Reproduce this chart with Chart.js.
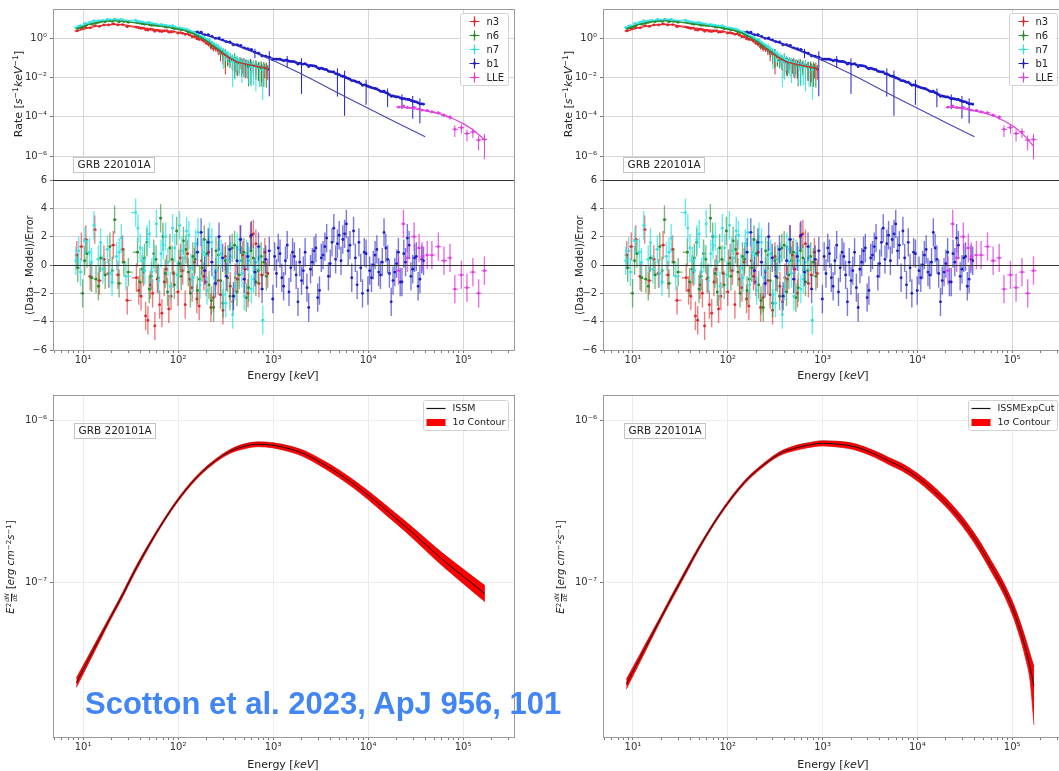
<!DOCTYPE html>
<html lang="en">
<head>
<meta charset="UTF-8">
<title>GRB 220101A spectral fits</title>
<script src="https://cdn.jsdelivr.net/npm/chart.js@4"></script>
<style>
  body { margin: 0; width: 1059px; height: 771px; overflow: hidden; background: #fff; position: relative;
         font-family: 'DejaVu Sans', sans-serif; color: #222; }
  canvas { position: absolute; }
  .yt { position: absolute; transform: translate(-50%, -50%) rotate(-90deg); white-space: nowrap; font-size: 11px; z-index: 5; }
  .xt { position: absolute; transform: translate(-50%, -50%); white-space: nowrap; font-size: 11px; z-index: 5; }
  sup { font-size: 70%; vertical-align: 0.45em; line-height: 0; }
  .fr { display: inline-flex; flex-direction: column; font-size: 62%; line-height: 1.05; vertical-align: middle; text-align: center; margin: 0 1px; }
  .fr i + i { border-top: 1px solid #222; }
  #cite { position: absolute; left: 85px; top: 688px; font: bold 31px 'Liberation Sans', Arial, sans-serif;
          line-height: 31px; color: #4285f4; white-space: nowrap; z-index: 6; }
</style>
</head>
<body>

<canvas id="rateL" width="530" height="200" style="left:0;top:-5px"></canvas>
<canvas id="resL" width="530" height="215" style="left:0;top:165px"></canvas>
<canvas id="fluxL" width="530" height="391" style="left:0;top:380px"></canvas>
<canvas id="rateR" width="545" height="200" style="left:530px;top:-5px"></canvas>
<canvas id="resR" width="545" height="215" style="left:530px;top:165px"></canvas>
<canvas id="fluxR" width="545" height="391" style="left:530px;top:380px"></canvas>

<div class="yt" style="left:18px;top:94px">Rate [<i>s</i><sup>−1</sup><i>keV</i><sup>−1</sup>]</div>
<div class="yt" style="left:29px;top:265px;font-size:10px">(Data - Model)/Error</div>
<div class="yt" style="left:11px;top:567px;font-size:10px"><i>E</i><sup>2</sup><span class="fr"><i>dN</i><i>dE</i></span> [<i>erg cm</i><sup>−2</sup><i>s</i><sup>−1</sup>]</div>
<div class="xt" style="left:283px;top:375px">Energy [<i>keV</i>]</div>
<div class="xt" style="left:283px;top:764px">Energy [<i>keV</i>]</div>

<div class="yt" style="left:568px;top:94px">Rate [<i>s</i><sup>−1</sup><i>keV</i><sup>−1</sup>]</div>
<div class="yt" style="left:579px;top:265px;font-size:10px">(Data - Model)/Error</div>
<div class="yt" style="left:561px;top:567px;font-size:10px"><i>E</i><sup>2</sup><span class="fr"><i>dN</i><i>dE</i></span> [<i>erg cm</i><sup>−2</sup><i>s</i><sup>−1</sup>]</div>
<div class="xt" style="left:833px;top:375px">Energy [<i>keV</i>]</div>
<div class="xt" style="left:833px;top:764px">Energy [<i>keV</i>]</div>

<div id="cite">Scotton et al. 2023, ApJ 956, 101</div>

<script>
// ---- axis ticks ----
const xDecades = [10, 100, 1000, 10000, 100000];
const xDecadeLabels = ['10¹', '10²', '10³', '10⁴', '10⁵'];
const rateTicks = [1e-6, 1e-4, 1e-2, 1];
const rateTickLabels = ['10⁻⁶', '10⁻⁴', '10⁻²', '10⁰'];
const resTicks = [-6, -4, -2, 0, 2, 4, 6];
const resTickLabels = ['−6', '−4', '−2', '0', '2', '4', '6'];
const fluxTicks = [1e-7, 1e-6];
const fluxTickLabels = ['10⁻⁷', '10⁻⁶'];

// ---- NaI n3 ----
const n3E = [8.6, 9.6, 10.7, 11.9, 13.3, 14.9, 16.6, 18.6, 20.8, 23.3, 26.1, 29.2, 36.5, 38.6, 40.8, 43.2, 45.6, 48.2, 51, 54,
             57, 60.5, 64, 67.7, 71.5, 75.6, 80, 84.5, 89, 100, 106, 112, 119, 126, 133, 141, 149, 158, 167, 177,
             187, 198, 210, 222, 236, 250, 265, 280, 297, 315, 335, 355, 377, 400, 425, 450, 480, 510, 545, 580,
             620, 660, 710, 760, 820, 880];
const n3Rate = [2.4, 3.1, 3.6, 3.45, 4.4, 4.05, 4.8, 4.85, 5.45, 4.8, 5.05, 3.95, 3.7, 3.4, 3.2, 3.3, 2.7, 2.6, 2.9, 2.7,
                2.3, 2.55, 2.3, 2.2, 2.4, 2.45, 2.05, 2.1, 2.2, 1.85, 1.95, 1.8, 1.6, 1.7, 1.45, 1.2, 1.2, 0.95, 0.88, 0.87,
                0.72, 0.57, 0.48, 0.36, 0.3, 0.29, 0.23, 0.17, 0.155, 0.145, 0.105, 0.08, 0.071, 0.063, 0.058, 0.068, 0.052, 0.045, 0.043, 0.055,
                0.043, 0.045, 0.034, 0.029, 0.03, 0.026];
const n3Sig = [0.05, 0.05, 0.05, 0.05, 0.05, 0.05, 0.05, 0.05, 0.05, 0.05, 0.05, 0.06, 0.06, 0.06, 0.06, 0.06, 0.06, 0.06, 0.06, 0.06,
               0.07, 0.07, 0.07, 0.07, 0.07, 0.07, 0.07, 0.07, 0.08, 0.08, 0.08, 0.08, 0.08, 0.09, 0.09, 0.1, 0.1, 0.12, 0.12, 0.14,
               0.15, 0.18, 0.2, 0.25, 0.28, 0.3, 0.4, 0.6, 0.7, 0.9, 0.6, 0.5, 0.7, 0.7, 0.8, 0.6, 0.7, 0.8, 0.8, 0.6,
               0.6, 0.7, 0.8, 0.8, 0.7, 0.7];
const n3Res = [0.7, 1.3, 1.8, -0.8, 2.5, -1.1, 0.4, -0.6, 1.4, -0.7, 1.1, -2.5, -0.9, -1.8, -2.2, -0.5, -3.6, -3.9, -1.4, -2.0,
               -4.3, -1.0, -2.8, -3.4, -1.2, -0.3, -3.1, -2.2, -0.6, -1.9, 0.5, -0.4, -2.8, 0.8, -1.0, -1.6, 0.2, -2.4, -2.9, 0.3,
               -0.8, -1.2, 0.9, -3.0, -2.3, -0.5, -1.1, -2.1, -3.2, 0.6, 0.4, -1.5, -2.6, -0.9, -1.0, 1.8, 0.7, -0.3, -2.0, 2.0,
               2.2, 1.5, -1.3, -0.7, 0.9, -0.6];

// ---- NaI n6 ----
const n6E = [8.8, 9.9, 10.4, 11.0, 12.3, 13.7, 14.5, 15.3, 17.1, 19.2, 20.3, 21.5, 24.0, 26.9, 30.0, 37.5, 39.7, 42, 44.4, 47,
             49.7, 52.5, 55.5, 58.7, 62, 65.6, 69.3, 73.3, 77.6, 82, 86.7, 91.6, 96.7, 102, 108, 114, 121, 128, 135, 143,
             151, 160, 169, 179, 189, 200, 212, 224, 237, 251, 266, 281, 297, 314, 333, 352, 372, 394, 417, 441,
             467, 494, 523, 553, 586, 620, 660, 700, 750, 800, 850];
const n6Rate = [3.17, 3.6, 4.3, 5.0, 5.25, 5.9, 6.5, 6.97, 7.05, 8.1, 7.4, 8.9, 7.0, 7.3, 6.6, 6.27, 5.9, 5.5, 5.2, 5.6,
                5.1, 4.6, 4.7, 4.6, 4.5, 4.9, 4.2, 3.8, 3.7, 3.8, 3.5, 3.1, 3.2, 3.0, 2.75, 2.85, 2.5, 2.15, 2.0, 1.85,
                1.55, 1.25, 1.15, 1.03, 0.92, 0.8, 0.58, 0.42, 0.4, 0.39, 0.29, 0.21, 0.18, 0.155, 0.12, 0.075, 0.085, 0.09, 0.065, 0.056,
                0.054, 0.055, 0.048, 0.036, 0.041, 0.042, 0.038, 0.034, 0.035, 0.033, 0.031];
const n6Sig = [0.05, 0.05, 0.05, 0.05, 0.05, 0.05, 0.05, 0.05, 0.05, 0.05, 0.05, 0.05, 0.05, 0.05, 0.05, 0.06, 0.06, 0.06, 0.06, 0.06,
               0.06, 0.06, 0.06, 0.06, 0.06, 0.06, 0.07, 0.07, 0.07, 0.07, 0.07, 0.07, 0.07, 0.07, 0.08, 0.08, 0.08, 0.09, 0.09, 0.1,
               0.1, 0.12, 0.13, 0.15, 0.17, 0.2, 0.22, 0.28, 0.3, 0.35, 0.4, 0.5, 0.6, 0.8, 0.7, 0.6, 0.7, 0.9, 0.8, 0.7,
               0.8, 0.8, 0.7, 0.9, 0.9, 0.7, 0.8, 0.8, 0.9, 0.9, 0.9];
const n6Res = [-0.2, -2.0, 0.3, 0.8, -0.9, -1.0, -1.5, 0.5, -0.7, 1.3, -0.4, 3.2, -1.3, 0.2, -0.5, 0.9, -1.2, -0.3, 0.5, 1.6,
               -1.7, -0.8, 0.8, 0.4, -0.9, 3.3, 2.0, -0.6, -1.9, 1.2, 0.4, -1.4, 2.4, 0.1, -0.8, 1.7, 1.1, -0.5, -2.0, 0.6,
               0.4, -1.8, -1.0, -0.2, 1.8, 0.8, -1.4, -2.5, -3.0, 1.0, 0.7, -1.1, -2.7, 0.3, -0.9, -2.2, 1.2, 1.4, -1.9, -0.7,
               0.3, 0.9, -2.3, -1.6, 1.0, 0.5, -1.2, -0.4, 0.6, 0.2, -0.8];

// ---- NaI n7 ----
const n7E = [8.4, 9.0, 9.4, 10.5, 11.7, 12.3, 13.0, 14.5, 15.3, 16.2, 18.1, 19.1, 20.2, 22.6, 24, 25.3, 28.3, 35.8, 37.9, 40,
             42.3, 44.7, 47.3, 50, 53, 56, 59.2, 62.6, 66.2, 70, 74, 78.3, 82.8, 87.6, 92.6, 98, 104, 110, 116, 123,
             130, 137, 145, 153, 162, 171, 181, 191, 202, 214, 227, 240, 254, 268, 284, 300, 318, 336, 356, 376,
             398, 420, 445, 470, 498, 526, 558, 590, 625, 660, 720, 780];
const n7Rate = [3.55, 4.2, 4.4, 5.85, 6.5, 6.9, 8.0, 7.85, 7.9, 8.2, 9.2, 8.6, 8.4, 9.05, 8.7, 9.3, 7.8, 8.5, 7.4, 7.1,
                6.7, 6.1, 6.3, 6.4, 5.7, 5.5, 5.3, 4.7, 4.9, 4.9, 4.6, 4.35, 4.1, 4.4, 3.85, 3.4, 3.4, 3.25, 3.05, 2.9,
                2.55, 2.2, 2.15, 1.9, 1.6, 1.2, 1.2, 1.04, 0.88, 0.8, 0.62, 0.48, 0.42, 0.35, 0.27, 0.18, 0.17, 0.145, 0.11, 0.065,
                0.08, 0.075, 0.062, 0.053, 0.052, 0.05, 0.046, 0.035, 0.04, 0.039, 0.034, 0.024];
const n7Sig = [0.05, 0.05, 0.05, 0.05, 0.05, 0.05, 0.05, 0.05, 0.05, 0.05, 0.05, 0.05, 0.05, 0.05, 0.05, 0.05, 0.05, 0.06, 0.06, 0.06,
               0.06, 0.06, 0.06, 0.06, 0.06, 0.06, 0.06, 0.06, 0.06, 0.07, 0.07, 0.07, 0.07, 0.07, 0.07, 0.07, 0.08, 0.08, 0.08, 0.09,
               0.09, 0.1, 0.1, 0.12, 0.12, 0.15, 0.15, 0.2, 0.2, 0.28, 0.25, 0.35, 0.3, 0.5, 0.45, 0.85, 0.6, 0.6, 0.7, 0.95,
               0.9, 0.7, 0.8, 0.9, 0.8, 0.8, 0.9, 0.9, 0.9, 0.95, 0.9, 0.97];
const n7Res = [0.3, 1.0, -0.5, 1.7, 0.9, 0.2, 2.8, 0.4, 1.6, -0.3, 1.1, -0.6, -1.2, 0.6, 0.9, 1.9, -0.8, 3.7, 2.6, 1.2,
               0.3, -0.4, 1.8, 2.2, -0.5, 0.5, 2.9, -1.1, 0.8, 1.4, 2.0, 0.2, -1.5, 2.6, 1.2, -0.7, 2.8, 1.0, 0.5, 2.4,
               2.1, -0.2, -0.9, 1.5, 2.3, -1.4, 0.9, 0.7, -1.8, 2.0, 1.6, -0.9, -0.4, 1.1, 0.8, -2.1, -2.7, 0.4, 0.6, -3.5,
               -1.5, 1.3, 1.1, -0.6, -2.2, 0.8, 0.3, -1.7, -1.0, 0.2, 0.5, -3.9];

// ---- BGO b1 ----
const b1E = [160, 175, 191, 208, 227, 248, 270, 295, 322, 351,
             383, 418, 456, 497, 542, 591, 645, 703, 767, 837,
             913, 996, 1040, 1087, 1135, 1185, 1238, 1293, 1350, 1410,
             1473, 1538, 1606, 1678, 1752, 1830, 1911, 1996, 2085, 2177,
             2274, 2375, 2481, 2591, 2706, 2826, 2952, 3083, 3220, 3363,
             3513, 3668, 3831, 4001, 4179, 4365, 4559, 4761, 4972, 5193,
             5424, 5665, 5917, 6180, 6454, 6741, 7041, 7353, 7680, 8021,
             8378, 8750, 9139, 9545, 9969, 10412, 10875, 11358, 11863, 12390,
             12940, 13515, 14116, 14743, 15398, 16082, 16797, 17543, 18322, 19136,
             19986, 20874, 21802, 22770, 23782, 24838, 25942, 27094, 28298, 29555,
             30868, 32240, 33672, 35168, 36731, 38363];
const b1Rate = [2.11, 2.05, 1.56, 1.56, 1.27, 0.99, 1.04, 0.83, 0.67, 0.65,
                0.46, 0.48, 0.44, 0.33, 0.30, 0.27, 0.194, 0.178, 0.126, 0.123,
                0.111, 0.081, 0.088, 0.086, 0.087, 0.087, 0.079, 0.071, 0.077, 0.078,
                0.068, 0.066, 0.066, 0.064, 0.058, 0.048, 0.055, 0.049, 0.049, 0.051,
                0.044, 0.036, 0.042, 0.040, 0.039, 0.0375, 0.031, 0.0277, 0.030, 0.0281,
                0.026, 0.0256, 0.021, 0.0201, 0.0195, 0.0197, 0.0158, 0.0153, 0.0140, 0.0122,
                0.0117, 0.0113, 0.0098, 0.0091, 0.0082, 0.0070, 0.0070, 0.0065, 0.0058, 0.0059,
                0.0049, 0.0040, 0.0042, 0.0041, 0.0036, 0.0033, 0.0031, 0.0029, 0.0028, 0.00267,
                0.0023, 0.00201, 0.00194, 0.00205, 0.0017, 0.00154, 0.00135, 0.0011, 0.00115, 0.00107,
                0.00102, 0.00103, 0.00093, 0.00082, 0.00085, 0.00081, 0.00078, 0.00077, 0.00068, 0.00062,
                0.0006, 0.00057, 0.00051, 0.00046, 0.00046, 0.00044];
const b1Sig = [0.05, 0.05, 0.05, 0.05, 0.05, 0.05, 0.05, 0.06, 0.06, 0.06,
               0.06, 0.06, 0.06, 0.06, 0.06, 0.06, 0.5, 0.06, 0.06, 0.06,
               0.99, 0.06, 0.06, 0.06, 0.06, 0.06, 0.06, 0.06, 0.06, 0.6,
               0.06, 0.06, 0.06, 0.06, 0.07, 0.07, 0.07, 0.97, 0.07, 0.07,
               0.07, 0.07, 0.07, 0.07, 0.07, 0.07, 0.07, 0.07, 0.07, 0.07,
               0.07, 0.07, 0.08, 0.08, 0.08, 0.08, 0.08, 0.93, 0.08, 0.08,
               0.08, 0.99, 0.08, 0.08, 0.08, 0.08, 0.08, 0.08, 0.09, 0.09,
               0.09, 0.09, 0.09, 0.9, 0.09, 0.09, 0.1, 0.1, 0.1, 0.1,
               0.1, 0.1, 0.1, 0.1, 0.1, 0.8, 0.1, 0.1, 0.1, 0.1,
               0.1, 0.1, 0.1, 0.7, 0.12, 0.12, 0.12, 0.12, 0.12, 0.87,
               0.12, 0.12, 0.12, 0.9, 0.12, 0.12];
const b1Res = [0.9, 2.3, -0.4, 1.6, 0.2, -1.3, 2.0, 0.5, -0.8, 1.1,
               -2.2, 0.3, 1.8, -1.0, 0.6, 2.1, -0.5, 1.3, -1.7, 0.4,
               1.0, -2.4, 0.6, -0.6, 1.2, 0.8, -0.9, -1.5, 0.3, 1.4,
               -1.9, -0.2, 0.9, 0.6, -0.7, -2.6, 0.2, -1.1, -0.4, 0.9,
               -1.6, -3.0, -0.3, 0.2, 1.0, 1.2, -2.3, -1.8, 0.5, 0.7,
               1.3, 1.9, -0.8, 0.1, 1.6, 2.6, 0.4, 1.5, 2.1, 0.3,
               1.8, 2.2, 2.9, 1.0, 1.4, -0.9, 2.4, 0.5, -1.4, 1.6,
               -0.2, -2.0, 0.9, 0.8, -1.8, -0.4, -0.9, 0.0, 0.7, 1.1,
               -0.5, -0.7, 0.2, 2.3, 1.2, 0.4, -0.6, -2.6, -1.1, -0.5,
               0.1, 0.9, -1.2, -1.2, 0.8, 0.2, 1.9, 1.4, -0.8, -0.3,
               0.5, 0.6, -1.5, -1.0, 0.4, 0.3];

// ---- LAT LLE ----
const lleE = [21000, 23600, 26000, 30600, 34500, 37000, 42000, 47000, 55000, 63000, 73000, 82000, 96000, 110000, 127000, 146000, 168000];
const lleRate = [3.1e-4, 3.6e-4, 3.0e-4, 3.0e-4, 2.5e-4, 2.2e-4, 2.1e-4, 1.8e-4, 1.6e-4, 1.2e-4, 9.5e-5, 2.3e-5, 2.8e-5, 1.4e-5, 1.7e-5, 6.5e-6, 7.0e-6];
const lleSig = [0.1, 0.1, 0.1, 0.1, 0.12, 0.12, 0.15, 0.15, 0.2, 0.2, 0.25, 0.6, 0.5, 0.6, 0.5, 0.7, 0.9];
const lleRes = [-0.4, 2.9, 0.5, 2.0, 1.2, 0.6, 0.7, 0.7, 1.3, 0.3, 0.5, -1.7, -0.7, -1.6, -0.5, -2.0, -0.4];

// ---- folded model curves (count space) ----
const naiModelE = [8.5, 12, 17, 22, 30, 45, 70, 100, 140, 200, 280, 400, 600, 900];
const n3ModelR = [2.3, 3.6, 4.8, 5.1, 4.5, 3.3, 2.55, 2.05, 1.38, 0.62, 0.2, 0.07, 0.042, 0.029];
const n6ModelR = [3.1, 5.4, 7.3, 7.7, 6.8, 5.35, 4.0, 3.05, 1.9, 0.75, 0.23, 0.072, 0.042, 0.03];
const n7ModelR = [3.6, 6.1, 8.3, 8.9, 8.1, 6.3, 4.65, 3.55, 2.3, 0.9, 0.32, 0.09, 0.044, 0.031];
const b1ModelE = [160, 250, 400, 600, 1000, 1500, 2100, 3000, 4400, 6600, 10000, 16000, 25000, 38000];
const b1ModelR = [2.0, 1.05, 0.5, 0.23, 0.095, 0.068, 0.05, 0.032, 0.017, 0.0075, 0.0035, 0.0015, 0.0008, 0.00043];
const b1LineE = [150, 400, 1000, 1900, 5900, 40000];
const b1LineR = [2.2, 0.45, 0.075, 0.017, 0.001, 9.5e-6];
const lleModelE = [21000, 30000, 40000, 57000, 72000, 100000, 130000, 170000];
const lleModelR = [3.2e-4, 2.6e-4, 2.0e-4, 1.4e-4, 9.5e-5, 4.5e-5, 2.0e-5, 6.5e-6];
const lleCutModelR = [3.2e-4, 2.6e-4, 2.0e-4, 1.35e-4, 8.5e-5, 3.6e-5, 1.3e-5, 3.0e-6];

// ---- ISSM nuFnu with 1 sigma contour ----
const issmE = [8.5, 11, 15, 20, 26, 35, 50, 70, 100, 150, 220, 350, 500, 700, 1000, 1500, 2200, 3500, 5000, 7000,
               10000, 15000, 25000, 40000, 60000, 100000, 170000];
const issmF = [2.4e-8, 3.2e-8, 4.53e-8, 6.24e-8, 8.32e-8, 1.175e-7, 1.71e-7, 2.37e-7, 3.22e-7, 4.31e-7, 5.32e-7, 6.4e-7, 6.9e-7, 7.1e-7, 7.0e-7, 6.65e-7, 6.15e-7, 5.3e-7, 4.65e-7, 4.05e-7,
               3.45e-7, 2.83e-7, 2.2e-7, 1.72e-7, 1.39e-7, 1.09e-7, 8.5e-8];
const issmLo = [2.24e-8, 3.02e-8, 4.33e-8, 6.03e-8, 8.04e-8, 1.135e-7, 1.663e-7, 2.316e-7, 3.147e-7, 4.212e-7, 5.199e-7, 6.226e-7, 6.666e-7, 6.859e-7, 6.747e-7, 6.38e-7, 5.873e-7, 5.038e-7, 4.4e-7, 3.823e-7,
                3.242e-7, 2.641e-7, 2.044e-7, 1.583e-7, 1.268e-7, 9.83e-8, 7.58e-8];
const issmHi = [2.57e-8, 3.39e-8, 4.74e-8, 6.46e-8, 8.61e-8, 1.216e-7, 1.758e-7, 2.425e-7, 3.295e-7, 4.41e-7, 5.444e-7, 6.579e-7, 7.142e-7, 7.349e-7, 7.263e-7, 6.931e-7, 6.44e-7, 5.576e-7, 4.914e-7, 4.29e-7,
                3.671e-7, 3.032e-7, 2.368e-7, 1.869e-7, 1.524e-7, 1.209e-7, 9.54e-8];

// ---- ISSMExpCut nuFnu with 1 sigma contour ----
const cutE = [8.5, 11, 15, 20, 26, 35, 50, 70, 100, 150, 220, 350, 500, 700, 1000, 1500, 2200, 3500, 5000, 7000,
              10000, 14000, 19500, 27000, 34000, 45000, 60000, 80000, 100000, 120000, 137000, 155000, 170000];
const cutF = [2.35e-8, 3.13e-8, 4.43e-8, 6.12e-8, 8.17e-8, 1.125e-7, 1.64e-7, 2.27e-7, 3.08e-7, 4.13e-7, 5.09e-7, 6.2e-7, 6.7e-7, 7.0e-7, 7.2e-7, 7.1e-7, 6.85e-7, 6.2e-7, 5.6e-7, 5.1e-7,
              4.45e-7, 3.79e-7, 3.15e-7, 2.55e-7, 2.14e-7, 1.68e-7, 1.26e-7, 9.33e-8, 7.0e-8, 5.19e-8, 4.0e-8, 2.97e-8, 2.29e-8];
const cutLo = [2.19e-8, 2.95e-8, 4.23e-8, 5.91e-8, 7.89e-8, 1.087e-7, 1.595e-7, 2.218e-7, 3.01e-7, 4.036e-7, 4.974e-7, 6.03e-7, 6.473e-7, 6.763e-7, 6.94e-7, 6.812e-7, 6.557e-7, 5.921e-7, 5.323e-7, 4.837e-7,
               4.211e-7, 3.57e-7, 2.96e-7, 2.385e-7, 1.997e-7, 1.561e-7, 1.165e-7, 8.57e-8, 6.35e-8, 4.63e-8, 3.48e-8, 2.44e-8, 1.32e-8];
const cutHi = [2.52e-8, 3.32e-8, 4.64e-8, 6.33e-8, 8.46e-8, 1.164e-7, 1.686e-7, 2.323e-7, 3.152e-7, 4.226e-7, 5.209e-7, 6.374e-7, 6.935e-7, 7.246e-7, 7.47e-7, 7.4e-7, 7.156e-7, 6.492e-7, 5.891e-7, 5.377e-7,
               4.703e-7, 4.024e-7, 3.352e-7, 2.726e-7, 2.293e-7, 1.809e-7, 1.363e-7, 1.016e-7, 7.71e-8, 5.82e-8, 4.59e-8, 3.61e-8, 3.02e-8];

// ---- look ----
const X_MIN = 4.83, X_MAX = 3.44e5;
const RATE_MIN = 6.0e-8, RATE_MAX = 31.3;
const FLUX_MIN = 1.11e-8, FLUX_MAX = 1.43e-6;
const C = { n3: '#e3262b', n6: '#2b8a2b', n7: '#35e3e3', b1: '#1e1ec8', lle: '#e040e0' };
const CA = { n3: 'rgba(227,38,43,0.6)', n6: 'rgba(43,138,43,0.6)', n7: 'rgba(53,227,227,0.75)',
             b1: 'rgba(30,30,200,0.6)', lle: 'rgba(224,64,224,0.75)' };
const GRID = '#d6d6d6', GRID_FAINT = '#ececec', FRAME = '#9a9a9a';

Chart.defaults.font.family = "'DejaVu Sans', sans-serif";
Chart.defaults.font.size = 10;
Chart.defaults.color = '#333';
Chart.defaults.animation = false;

const xMinor = [];
for (let d = 0; d <= 5; d++) {
  for (let m = 2; m <= 9; m++) {
    const v = m * Math.pow(10, d);
    if (v > X_MIN && v < X_MAX) xMinor.push(v);
  }
}

// half-way (geometric) bin edges between neighbouring channels
function bins(E) {
  return E.map((e, i) => {
    const prev = i > 0 ? E[i - 1] : e * e / E[i + 1];
    const next = i < E.length - 1 ? E[i + 1] : e * e / E[i - 1];
    return [Math.sqrt(prev * e), Math.sqrt(e * next)];
  });
}
function ratePoints(E, R, S) {
  const b = bins(E);
  return E.map((e, i) => {
    const lo = R[i] * (1 - S[i]);
    return { x: e, y: R[i], xlo: b[i][0], xhi: b[i][1], ylo: lo > 0 ? lo : RATE_MIN / 2, yhi: R[i] * (1 + S[i]) };
  });
}
function resPoints(E, D) {
  const b = bins(E);
  return E.map((e, i) => ({ x: e, y: D[i], xlo: b[i][0], xhi: b[i][1], ylo: D[i] - 1, yhi: D[i] + 1 }));
}
function curve(E, V) { return E.map((e, i) => ({ x: e, y: V[i] })); }

// error bars drawn just under each dataset's markers
const errorBars = {
  id: 'errorBars',
  beforeDatasetDraw(chart, args) {
    const ds = chart.data.datasets[args.index];
    if (!ds.barColor) return;
    const { ctx, chartArea: a, scales: { x, y } } = chart;
    ctx.save();
    ctx.beginPath();
    ctx.rect(a.left, a.top, a.right - a.left, a.bottom - a.top);
    ctx.clip();
    ctx.strokeStyle = ds.barColor;
    ctx.lineWidth = ds.barWidth || 1;
    ctx.beginPath();
    ds.data.forEach(p => {
      const px = x.getPixelForValue(p.x), py = y.getPixelForValue(p.y);
      ctx.moveTo(x.getPixelForValue(p.xlo), py);
      ctx.lineTo(x.getPixelForValue(p.xhi), py);
      ctx.moveTo(px, y.getPixelForValue(p.ylo));
      ctx.lineTo(px, y.getPixelForValue(p.yhi));
    });
    ctx.stroke();
    ctx.restore();
  }
};

function frame(lines) {
  return {
    id: 'frame',
    afterDatasetsDraw(chart) {
      const { ctx, chartArea: a, scales } = chart;
      ctx.save();
      ctx.strokeStyle = FRAME;
      ctx.lineWidth = 1;
      ctx.strokeRect(Math.round(a.left) + 0.5, Math.round(a.top) + 0.5, Math.round(a.right - a.left), Math.round(a.bottom - a.top));
      ctx.strokeStyle = '#333';
      ctx.lineWidth = 1.2;
      (lines || []).forEach(v => {
        const py = Math.round(scales.y.getPixelForValue(v)) + 0.5;
        ctx.beginPath();
        ctx.moveTo(a.left, py);
        ctx.lineTo(a.right, py);
        ctx.stroke();
      });
      ctx.restore();
    }
  };
}

function boxes(spec) {
  return {
    id: 'boxes',
    afterDraw(chart) {
      const { ctx, chartArea: a } = chart;
      ctx.save();
      ctx.textBaseline = 'middle';
      ctx.textAlign = 'left';
      if (spec.legend) {
        const L = spec.legend;
        ctx.font = L.font;
        const tw = Math.max(...L.items.map(it => ctx.measureText(it.label).width));
        const w = Math.round(L.textX + tw + L.padR), h = L.items.length * L.rowH + 2 * L.padV;
        const x0 = Math.round(a.right - L.right - w) + 0.5, y0 = Math.round(a.top + L.top) + 0.5;
        ctx.fillStyle = 'rgba(255,255,255,0.85)';
        ctx.strokeStyle = '#d2d2d2';
        ctx.lineWidth = 1;
        ctx.beginPath();
        if (ctx.roundRect) ctx.roundRect(x0, y0, w, h, 2); else ctx.rect(x0, y0, w, h);
        ctx.fill();
        ctx.stroke();
        L.items.forEach((it, i) => {
          const cy = y0 + L.padV + L.rowH * (i + 0.5);
          const mx = x0 + L.markX;
          ctx.strokeStyle = it.color;
          ctx.fillStyle = it.color;
          if (it.kind === 'cross') {
            ctx.lineWidth = 1.2;
            ctx.beginPath();
            ctx.moveTo(mx - 5, cy); ctx.lineTo(mx + 5, cy);
            ctx.moveTo(mx, cy - 5); ctx.lineTo(mx, cy + 5);
            ctx.stroke();
            ctx.beginPath(); ctx.arc(mx, cy, 1.4, 0, 2 * Math.PI); ctx.fill();
          } else if (it.kind === 'line') {
            ctx.lineWidth = 1.2;
            ctx.beginPath(); ctx.moveTo(x0 + 3, cy); ctx.lineTo(x0 + 22, cy); ctx.stroke();
          } else {
            ctx.fillRect(x0 + 3, cy - 3.5, 19, 7);
          }
          ctx.fillStyle = '#222';
          ctx.fillText(it.label, x0 + L.textX, cy + 0.5);
        });
      }
      if (spec.tag) {
        const T = spec.tag;
        ctx.font = '10.5px "DejaVu Sans", sans-serif';
        const w = Math.round(ctx.measureText(T.text).width + 8), h = 15;
        const x0 = Math.round(a.left + T.dx) + 0.5;
        const y0 = Math.round(T.bottom ? a.bottom - T.dy - h : a.top + T.dy) + 0.5;
        ctx.fillStyle = 'rgba(255,255,255,0.9)';
        ctx.strokeStyle = '#c4c4c4';
        ctx.lineWidth = 1;
        ctx.fillRect(x0, y0, w, h);
        ctx.strokeRect(x0, y0, w, h);
        ctx.fillStyle = '#222';
        ctx.fillText(T.text, x0 + 4, y0 + h / 2 + 0.5);
      }
      ctx.restore();
    }
  };
}

function xScale(labels, height, gridColor) {
  return {
    type: 'logarithmic', min: X_MIN, max: X_MAX,
    afterBuildTicks: s => {
      const vals = labels ? xDecades.concat(xMinor).sort((p, q) => p - q) : xDecades;
      s.ticks = vals.map(v => ({ value: v, major: xDecades.includes(v) }));
    },
    afterFit: s => { s.height = height; },
    ticks: {
      display: labels, autoSkip: false, maxRotation: 0, minRotation: 0, padding: 1, color: '#333',
      callback: v => { const i = xDecades.indexOf(v); return i >= 0 ? xDecadeLabels[i] : ''; }
    },
    grid: {
      color: c => (c.tick && c.tick.major ? gridColor : 'rgba(0,0,0,0)'),
      tickColor: '#777', tickLength: 3, drawTicks: labels
    },
    border: { display: false }
  };
}

function yScale(type, min, max, ticks, tickLabels, width, gridColor) {
  return {
    type, min, max,
    afterBuildTicks: s => { s.ticks = ticks.map(v => ({ value: v })); },
    afterFit: s => { s.width = width; },
    ticks: { autoSkip: false, padding: 3, color: '#333', callback: v => tickLabels[ticks.indexOf(v)] },
    grid: { color: gridColor, tickColor: '#777', tickLength: 3 },
    border: { display: false }
  };
}

function baseOptions(padTop, padRight, scales) {
  return {
    responsive: false, animation: false, events: [],
    layout: { padding: { top: padTop, right: padRight, left: 0, bottom: 0 } },
    plugins: { legend: { display: false }, tooltip: { enabled: false } },
    scales
  };
}

function dataSet(label, pts, key, bars, barWidth, order) {
  return { label, data: pts, barColor: bars, barWidth, order, pointRadius: 1.4, pointBorderWidth: 0,
           pointBackgroundColor: C[key], borderColor: C[key], showLine: false };
}
function modelSet(pts, color, width, order) {
  return { data: pts, showLine: true, pointRadius: 0, borderColor: color, borderWidth: width,
           cubicInterpolationMode: 'monotone', order };
}

const detLegend = {
  font: '10px "DejaVu Sans", sans-serif', rowH: 14, padV: 1, top: 4, right: 6, markX: 14, textX: 26, padR: 5,
  items: [
    { label: 'n3', color: C.n3, kind: 'cross' },
    { label: 'n6', color: C.n6, kind: 'cross' },
    { label: 'n7', color: C.n7, kind: 'cross' },
    { label: 'b1', color: C.b1, kind: 'cross' },
    { label: 'LLE', color: C.lle, kind: 'cross' }
  ]
};

function rateChart(id, yW, padR, lleModel) {
  new Chart(document.getElementById(id), {
    type: 'scatter',
    data: {
      datasets: [
        modelSet(curve(naiModelE, n3ModelR), C.n3, 1.2, 1),
        modelSet(curve(naiModelE, n6ModelR), C.n6, 1.2, 1),
        modelSet(curve(naiModelE, n7ModelR), C.n7, 1.2, 1),
        modelSet(curve(b1ModelE, b1ModelR), C.b1, 1.2, 1),
        modelSet(curve(b1LineE, b1LineR), '#4646b4', 1.1, 1),
        modelSet(curve(lleModelE, lleModel), C.lle, 1.2, 1),
        dataSet('n3', ratePoints(n3E, n3Rate, n3Sig), 'n3', C.n3, 1, 10),
        dataSet('n6', ratePoints(n6E, n6Rate, n6Sig), 'n6', C.n6, 1, 9),
        dataSet('n7', ratePoints(n7E, n7Rate, n7Sig), 'n7', C.n7, 1, 8),
        dataSet('b1', ratePoints(b1E, b1Rate, b1Sig), 'b1', C.b1, 1, 7),
        dataSet('LLE', ratePoints(lleE, lleRate, lleSig), 'lle', C.lle, 1, 6)
      ]
    },
    options: baseOptions(14, padR, {
      x: xScale(false, 15, GRID),
      y: yScale('logarithmic', RATE_MIN, RATE_MAX, rateTicks, rateTickLabels, yW, GRID)
    }),
    plugins: [errorBars, frame([]), boxes({ legend: detLegend, tag: { text: 'GRB 220101A', dx: 20, dy: 8, bottom: true } })]
  });
}

function resChart(id, yW, padR) {
  new Chart(document.getElementById(id), {
    type: 'scatter',
    data: {
      datasets: [
        dataSet('n3', resPoints(n3E, n3Res), 'n3', CA.n3, 1.4, 10),
        dataSet('n6', resPoints(n6E, n6Res), 'n6', CA.n6, 1.4, 9),
        dataSet('n7', resPoints(n7E, n7Res), 'n7', CA.n7, 1.4, 8),
        dataSet('b1', resPoints(b1E, b1Res), 'b1', CA.b1, 1.4, 7),
        dataSet('LLE', resPoints(lleE, lleRes), 'lle', CA.lle, 1.4, 6)
      ]
    },
    options: baseOptions(15, padR, {
      x: xScale(true, 30, GRID),
      y: yScale('linear', -6, 6, resTicks, resTickLabels, yW, GRID)
    }),
    plugins: [errorBars, frame([0, 6])]
  });
}

function fluxChart(id, yW, padR, E, F, lo, hi, name) {
  new Chart(document.getElementById(id), {
    type: 'scatter',
    data: {
      datasets: [
        { label: name, data: curve(E, F), showLine: true, pointRadius: 0, borderColor: '#151515', borderWidth: 1,
          cubicInterpolationMode: 'monotone' },
        { label: '1σ Contour', data: curve(E, hi), showLine: true, pointRadius: 0, borderColor: '#a00000', borderWidth: 0.6,
          backgroundColor: '#ff0000', fill: '+1', cubicInterpolationMode: 'monotone' },
        { data: curve(E, lo), showLine: true, pointRadius: 0, borderColor: '#a00000', borderWidth: 0.6,
          cubicInterpolationMode: 'monotone' }
      ]
    },
    options: baseOptions(15, padR, {
      x: xScale(true, 34, GRID_FAINT),
      y: yScale('logarithmic', FLUX_MIN, FLUX_MAX, fluxTicks, fluxTickLabels, yW, GRID_FAINT)
    }),
    plugins: [frame([]), boxes({
      legend: {
        font: '9.5px "DejaVu Sans", sans-serif', rowH: 14, padV: 1, top: 5, right: 6, markX: 12, textX: 29, padR: 3,
        items: [
          { label: name, color: '#151515', kind: 'line' },
          { label: '1σ Contour', color: '#ff0000', kind: 'patch' }
        ]
      },
      tag: { text: 'GRB 220101A', dx: 21, dy: 28, bottom: false }
    })]
  });
}

rateChart('rateL', 53, 16, lleModelR);
resChart('resL', 53, 16);
fluxChart('fluxL', 53, 16, issmE, issmF, issmLo, issmHi, 'ISSM');
rateChart('rateR', 73, 12, lleCutModelR);
resChart('resR', 73, 12);
fluxChart('fluxR', 73, 12, cutE, cutF, cutLo, cutHi, 'ISSMExpCut');
</script>
</body>
</html>
